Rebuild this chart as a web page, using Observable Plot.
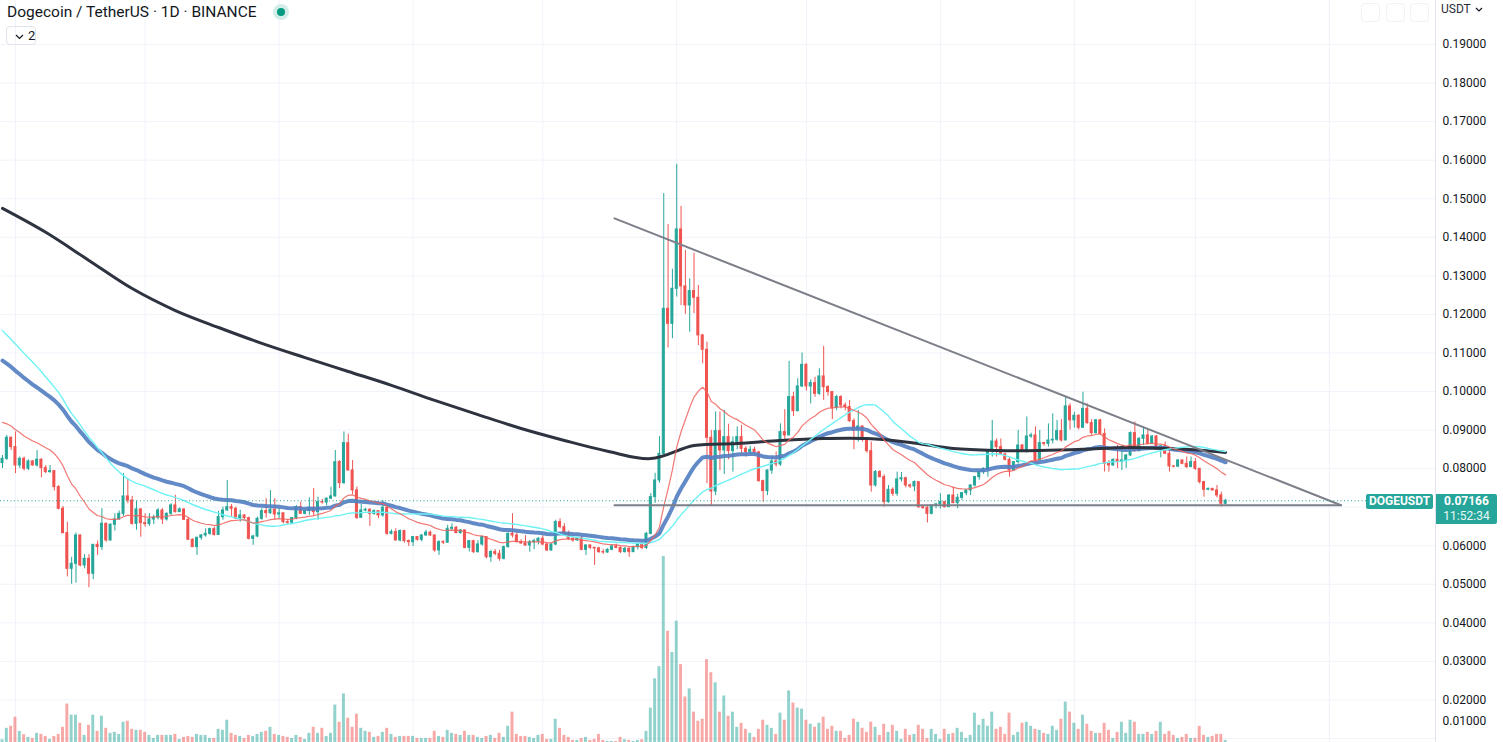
<!DOCTYPE html>
<html><head><meta charset="utf-8">
<script src="https://cdn.jsdelivr.net/npm/d3@7"></script>
<script src="https://cdn.jsdelivr.net/npm/@observablehq/plot@0.6"></script>
<style>
html,body{margin:0;padding:0;background:#fff;}
#chart{position:relative;width:1503px;height:742px;overflow:hidden;font-family:Roboto,"Noto Sans",sans-serif;color:#131722;}
#chart svg{position:absolute;left:0;top:0;}
#chart .ov svg{position:static;}
.ov{position:absolute;white-space:nowrap;}
</style></head>
<body><div id="chart"></div>
<script>
// ---------------- DATA ----------------
const startDate = "2022-05-29";           // first daily candle (BINANCE DOGEUSDT, 1D)
const firstOpen = 0.08143;
const closes = [
0.08255,0.08800,0.08558,0.08082,0.08255,0.07996,0.08186,0.08082,0.08230,0.08013,
0.07909,0.07935,0.07520,0.06958,0.06327,0.05402,0.05531,0.06266,0.05488,0.05661,
0.05272,0.06024,0.05964,0.06569,0.06137,0.06543,0.06681,0.06828,0.07278,0.07174,
0.06569,0.06941,0.06586,0.06560,0.06681,0.06725,0.06915,0.06681,0.06828,0.07045,
0.06871,0.06941,0.06672,0.06154,0.05964,0.06206,0.06266,0.06309,0.06430,0.06280,
0.06742,0.06915,0.07000,0.06958,0.06700,0.06785,0.06716,0.06180,0.06240,0.06698,
0.06897,0.06845,0.06932,0.06811,0.06840,0.06612,0.06595,0.06716,0.07000,0.06828,
0.06897,0.06984,0.06871,0.07131,0.07120,0.07220,0.07280,0.08168,0.07624,0.08661,
0.07952,0.07433,0.06724,0.06915,0.06932,0.06828,0.06897,0.06785,0.06984,0.06310,
0.06353,0.06137,0.06379,0.06120,0.06093,0.06223,0.06154,0.06266,0.06340,0.06266,
0.05877,0.06093,0.06080,0.06439,0.06465,0.06327,0.06396,0.05946,0.06119,0.05834,
0.06032,0.06223,0.05704,0.05834,0.05791,0.05661,0.05964,0.06309,0.06266,0.06093,
0.06060,0.06007,0.06090,0.06119,0.06180,0.06032,0.05877,0.06032,0.06612,0.06482,
0.06309,0.06180,0.06136,0.06197,0.05894,0.06007,0.05946,0.05930,0.05834,0.05825,
0.05894,0.05981,0.05946,0.05834,0.05920,0.05834,0.05964,0.06032,0.05940,0.06309,
0.07261,0.07693,0.08384,0.12145,0.11756,0.12664,0.14203,0.12725,0.12232,0.12603,
0.12431,0.11454,0.11082,0.08799,0.07407,0.08972,0.08470,0.08816,0.08453,0.08687,
0.08816,0.08514,0.08427,0.08488,0.08419,0.07675,0.07416,0.07950,0.08185,0.08107,
0.08946,0.08860,0.09854,0.09491,0.10131,0.10692,0.10131,0.10217,0.09940,0.10390,
0.10113,0.09984,0.09577,0.09854,0.09637,0.09594,0.09231,0.08989,0.09093,0.08773,
0.08453,0.07563,0.07909,0.07779,0.07130,0.07450,0.07347,0.07720,0.07750,0.07563,
0.07537,0.07649,0.07000,0.06980,0.06828,0.07044,0.07070,0.07130,0.07000,0.07303,
0.07104,0.07243,0.07364,0.07433,0.07563,0.07779,0.07908,0.07995,0.08470,0.08704,
0.08557,0.08367,0.08228,0.07952,0.08168,0.08600,0.08470,0.08834,0.08860,0.08211,
0.08661,0.08640,0.08730,0.08750,0.08972,0.08730,0.09612,0.09250,0.09370,0.09060,
0.09550,0.09180,0.08920,0.09250,0.08900,0.08125,0.08082,0.08229,0.08170,0.08212,
0.08341,0.08921,0.08454,0.08774,0.08860,0.08644,0.08834,0.08488,0.08575,0.08385,
0.08056,0.08050,0.08212,0.08125,0.08039,0.08169,0.07996,0.07650,0.07451,0.07477,
0.07434,0.07304,0.07088,0.07166];
const highs = [
0.0834,0.0886,0.0882,0.0895,0.0830,0.0830,0.0823,0.0821,0.0847,0.0826,
0.0808,0.0808,0.0795,0.0756,0.0702,0.0661,0.0570,0.0633,0.0628,0.0577,
0.0577,0.0603,0.0612,0.0696,0.0659,0.0657,0.0683,0.0690,0.0787,0.0774,
0.0728,0.0716,0.0696,0.0683,0.0683,0.0679,0.0696,0.0696,0.0685,0.0709,
0.0731,0.0698,0.0695,0.0672,0.0618,0.0622,0.0629,0.0644,0.0646,0.0648,
0.0689,0.0700,0.0769,0.0707,0.0700,0.0692,0.0680,0.0674,0.0627,0.0674,
0.0696,0.0722,0.0743,0.0722,0.0698,0.0685,0.0667,0.0673,0.0704,0.0713,
0.0692,0.0724,0.0748,0.0726,0.0720,0.0724,0.0752,0.0847,0.0821,0.0895,
0.0889,0.0821,0.0752,0.0707,0.0697,0.0696,0.0693,0.0690,0.0717,0.0690,
0.0641,0.0644,0.0641,0.0640,0.0615,0.0624,0.0624,0.0628,0.0640,0.0638,
0.0627,0.0613,0.0613,0.0653,0.0657,0.0650,0.0642,0.0640,0.0613,0.0614,
0.0613,0.0624,0.0622,0.0588,0.0590,0.0588,0.0599,0.0633,0.0683,0.0635,
0.0616,0.0626,0.0614,0.0617,0.0621,0.0626,0.0606,0.0605,0.0666,0.0670,
0.0657,0.0638,0.0622,0.0622,0.0625,0.0602,0.0602,0.0595,0.0596,0.0590,
0.0592,0.0600,0.0604,0.0597,0.0596,0.0595,0.0599,0.0604,0.0607,0.0634,
0.0735,0.0788,0.0883,0.1513,0.1433,0.1317,0.1589,0.1480,0.1366,0.1292,
0.1359,0.1275,0.1148,0.1128,0.0899,0.0947,0.0947,0.0951,0.0915,0.0882,
0.0908,0.0912,0.0857,0.0858,0.0855,0.0845,0.0770,0.0797,0.0830,0.0843,
0.0916,0.0953,0.1078,0.0998,0.1033,0.1100,0.1072,0.1030,0.1037,0.1059,
0.1117,0.1015,0.1000,0.0990,0.0989,0.0970,0.0977,0.0929,0.0951,0.0910,
0.0880,0.0869,0.0795,0.0795,0.0784,0.0756,0.0750,0.0791,0.0790,0.0778,
0.0760,0.0768,0.0765,0.0704,0.0705,0.0706,0.0710,0.0735,0.0714,0.0732,
0.0752,0.0733,0.0738,0.0745,0.0758,0.0780,0.0792,0.0802,0.0848,0.0925,
0.0877,0.0877,0.0840,0.0828,0.0818,0.0899,0.0862,0.0934,0.0892,0.0908,
0.0899,0.0868,0.0916,0.0942,0.0925,0.0927,0.0985,0.0968,0.0946,0.0940,
0.0998,0.0968,0.0927,0.0928,0.0928,0.0903,0.0821,0.0825,0.0860,0.0860,
0.0836,0.0895,0.0921,0.0880,0.0908,0.0899,0.0885,0.0886,0.0860,0.0869,
0.0847,0.0808,0.0823,0.0822,0.0830,0.0830,0.0826,0.0800,0.0767,0.0749,
0.0748,0.0756,0.0739,0.0720];
const lows = [
0.0800,0.0821,0.0847,0.0787,0.0800,0.0794,0.0795,0.0806,0.0804,0.0776,
0.0787,0.0788,0.0742,0.0693,0.0631,0.0519,0.0500,0.0503,0.0545,0.0540,
0.0491,0.0512,0.0575,0.0588,0.0609,0.0612,0.0638,0.0666,0.0676,0.0709,
0.0653,0.0640,0.0622,0.0648,0.0650,0.0655,0.0667,0.0655,0.0664,0.0679,
0.0685,0.0686,0.0666,0.0614,0.0595,0.0575,0.0614,0.0622,0.0627,0.0625,
0.0627,0.0666,0.0689,0.0674,0.0667,0.0661,0.0668,0.0615,0.0601,0.0621,
0.0666,0.0672,0.0681,0.0666,0.0670,0.0657,0.0655,0.0658,0.0667,0.0681,
0.0680,0.0679,0.0676,0.0666,0.0708,0.0703,0.0720,0.0726,0.0748,0.0759,
0.0794,0.0733,0.0668,0.0672,0.0688,0.0650,0.0679,0.0670,0.0674,0.0627,
0.0628,0.0612,0.0610,0.0607,0.0598,0.0598,0.0612,0.0610,0.0625,0.0624,
0.0583,0.0575,0.0603,0.0606,0.0638,0.0631,0.0630,0.0592,0.0584,0.0580,
0.0581,0.0599,0.0566,0.0557,0.0574,0.0560,0.0563,0.0594,0.0620,0.0607,
0.0603,0.0598,0.0583,0.0590,0.0602,0.0600,0.0585,0.0586,0.0600,0.0644,
0.0627,0.0614,0.0609,0.0611,0.0587,0.0575,0.0590,0.0549,0.0580,0.0578,
0.0580,0.0587,0.0592,0.0580,0.0581,0.0570,0.0582,0.0589,0.0590,0.0590,
0.0628,0.0710,0.0762,0.0835,0.1113,0.1137,0.1245,0.1223,0.1200,0.1154,
0.1202,0.1119,0.1072,0.0761,0.0704,0.0730,0.0795,0.0785,0.0823,0.0791,
0.0849,0.0832,0.0830,0.0838,0.0836,0.0765,0.0713,0.0730,0.0785,0.0804,
0.0806,0.0869,0.0886,0.0935,0.0947,0.1010,0.1001,0.0968,0.0985,0.0990,
0.0977,0.0988,0.0927,0.0950,0.0955,0.0950,0.0920,0.0849,0.0869,0.0869,
0.0840,0.0739,0.0752,0.0776,0.0700,0.0710,0.0728,0.0728,0.0765,0.0750,
0.0748,0.0740,0.0697,0.0694,0.0659,0.0680,0.0696,0.0695,0.0698,0.0699,
0.0709,0.0696,0.0718,0.0730,0.0730,0.0752,0.0770,0.0785,0.0778,0.0830,
0.0830,0.0834,0.0820,0.0778,0.0795,0.0812,0.0843,0.0840,0.0878,0.0817,
0.0821,0.0858,0.0856,0.0864,0.0871,0.0869,0.0875,0.0900,0.0905,0.0900,
0.0905,0.0915,0.0886,0.0890,0.0886,0.0791,0.0791,0.0806,0.0800,0.0795,
0.0800,0.0831,0.0843,0.0843,0.0860,0.0863,0.0862,0.0847,0.0828,0.0837,
0.0791,0.0802,0.0803,0.0810,0.0800,0.0803,0.0795,0.0760,0.0726,0.0743,
0.0742,0.0724,0.0700,0.0706];
// daily volume, billions of DOGE
const volumes = [
0.47,1.6,1.8,2.7,1.3,0.97,0.7,0.6,1.1,1.0,
0.8,0.5,0.8,1.0,1.7,4.0,2.9,2.9,2.1,0.9,
1.9,2.9,1.3,2.8,1.6,1.1,1.2,1.0,2.2,2.3,
1.5,1.4,1.4,1.2,0.9,0.6,0.9,0.9,0.9,0.9,
1.0,0.5,0.7,0.8,0.7,1.0,0.9,0.9,0.6,0.6,
1.5,1.4,2.4,1.1,0.9,0.8,0.6,0.9,0.8,1.0,
1.2,1.3,1.7,1.0,0.9,0.8,0.7,0.6,0.9,0.7,
0.5,1.1,1.7,1.1,1.6,0.8,1.1,3.9,2.2,5.0,
2.6,1.7,3.0,1.6,1.3,1.2,0.7,0.8,1.2,1.6,
1.0,0.7,0.8,0.8,0.8,0.8,0.6,0.6,0.6,0.6,
1.3,0.8,0.7,1.4,1.1,1.0,0.9,1.3,0.9,0.9,
0.7,0.6,0.8,0.9,0.6,1.1,0.7,1.8,3.2,1.0,
0.8,0.8,0.7,0.6,0.9,1.0,0.5,0.5,2.5,1.6,
0.9,0.7,0.4,0.4,0.6,0.7,0.4,0.5,1.0,0.4,
0.3,0.3,0.3,0.7,0.47,0.4,0.3,0.4,0.47,1.3,
3.6,6.5,7.7,18.6,11.2,9.1,12.2,7.9,4.7,5.5,
3.2,2.3,2.5,8.4,7.1,6.1,3.2,4.8,2.8,3.2,
1.7,2.1,1.5,1.1,0.7,1.5,2.4,1.9,1.6,1.0,
3.1,2.4,5.3,4.1,3.6,3.5,2.4,2.0,1.7,2.1,
2.7,1.5,1.8,1.3,1.3,0.6,0.9,2.5,2.2,1.6,
1.2,2.2,1.7,0.9,2.0,1.2,1.9,1.3,0.5,1.5,
0.9,1.0,1.9,1.5,0.6,1.5,1.0,0.5,1.5,1.0,
1.1,1.6,1.2,0.6,0.9,3.1,1.9,2.5,1.8,3.2,
1.5,1.7,1.0,3.1,0.9,1.2,2.1,2.2,1.8,1.5,
1.4,1.1,1.0,1.8,1.4,2.5,4.2,3.2,2.1,1.5,
2.9,2.0,1.3,1.1,1.1,2.1,1.4,0.6,1.2,2.2,
1.1,2.4,2.2,1.0,1.0,1.2,1.0,1.3,2.2,1.0,
1.3,0.9,0.6,0.7,1.0,0.6,0.6,1.8,0.9,0.7,
0.8,1.0,1.0,0.4];
// closes of the 49 days before the first visible candle (warm-up for the 50-day SMA)
const warmupCloses = [
0.146,0.142,0.139,0.144,0.141,0.140,0.139,0.141,0.143,0.147,0.145,0.142,0.139,0.148,0.157,
0.141,0.131,0.136,0.137,0.130,0.126,0.130,0.128,
0.133,0.136,0.124,0.122,0.118,0.114,
0.097,0.096,0.082,0.085,0.092,0.090,0.093,0.089,0.090,0.086,0.088,0.086,0.087,0.088,0.085,0.085,0.085,0.083,0.080,0.081];
const ema20Start = 0.0920;   // EMA 20 value on the first visible day
const ema50Start = 0.1080;   // EMA 50 value on the first visible day
// 200-day moving average, read at every 10th candle
const ma200Day = [0,10,20,30,40,50,60,70,80,90,100,110,120,130,140,150,160,170,180,190,200,210,220,230,240,250,260,270,280,283];
const ma200Val = [0.1475,0.1413,0.1340,0.1267,0.1210,0.1166,0.1125,0.1088,0.1052,0.1016,0.0977,0.0940,0.0904,0.0873,0.0845,0.0826,0.0860,0.0865,0.0873,0.0878,0.0878,0.0868,0.0852,0.0847,0.0847,0.0850,0.0855,0.0852,0.0845,0.0842];
// drawn trend lines (descending resistance, horizontal support)
const trendTimes = ["2022-10-17T14:24:00Z","2023-04-03T16:48:00Z"];
const resistPrices = [0.1449, 0.0705];
const supportPrices = [0.0705, 0.0705];
const priceTicks = [0.01,0.02,0.03,0.04,0.05,0.06,0.07,0.08,0.09,0.10,0.11,0.12,0.13,0.14,0.15,0.16,0.17,0.18,0.19];
const symbol = "DOGEUSDT", lastLabel = "0.07166", countdown = "11:52:34";

// ---------------- BUILD ----------------
const DAY = 864e5;
const UP = "#26a69a", DOWN = "#ef5350";
const W = 1503, H = 742, PR = 1435;
const FONT = "Roboto, 'Noto Sans', sans-serif";
const t0 = Date.parse(startDate + "T00:00:00Z");
const dayAt = i => new Date(t0 + i * DAY);
const candles = closes.map((c, i) => ({
  date: dayAt(i), open: i ? closes[i - 1] : firstOpen, high: highs[i], low: lows[i], close: c, volume: volumes[i]
}));
candles.forEach(d => d.up = d.close >= d.open);
const ups = candles.filter(d => d.up), downs = candles.filter(d => !d.up);

const allCloses = warmupCloses.concat(closes);
let e20 = ema20Start, e50 = ema50Start;
const ind = candles.map((d, i) => {
  if (i > 0) { e20 += (d.close - e20) * 2 / 21; e50 += (d.close - e50) * 2 / 51; }
  const j = i + warmupCloses.length;
  return { date: d.date, ema20: e20, ema50: e50, sma50: d3.mean(allCloses.slice(j - 49, j + 1)) };
});
const ma200 = ma200Day.map((k, n) => ({ date: dayAt(k), v: ma200Val[n] }));
const resist = trendTimes.map((t, n) => ({ date: new Date(t), v: resistPrices[n] }));
const support = trendTimes.map((t, n) => ({ date: new Date(t), v: supportPrices[n] }));

const xDomain = [dayAt(-0.463), dayAt(331.56)];
const months = d3.utcMonth.range(xDomain[0], xDomain[1]);
const base = { width: W, height: H, marginLeft: 0, marginRight: W - PR, marginTop: 0, marginBottom: 0,
  style: { background: "transparent", overflow: "visible" } };
const xs = { type: "utc", domain: xDomain, range: [0, PR], axis: null };
const ys = { type: "linear", domain: [0.01, 0.19], range: [738, 44] };
const GRID = "#f0f3fa";
const lastClose = closes[closes.length - 1];

// axis labels: the one hidden under the last-price label is dropped, the bottom one is nudged up into view
const yTmp = d3.scaleLinear(ys.domain, ys.range);
const yLast = yTmp(lastClose);
const axisTicks = priceTicks.filter(t => Math.abs(yTmp(t) - yLast) > 16 && t !== priceTicks[0]);
const edgeTicks = [priceTicks[0]];

const gridPlot = Plot.plot({ ...base, x: xs, y: { ...ys, axis: null }, marks: [
  Plot.gridY(priceTicks, { stroke: GRID, strokeOpacity: 1 }),
  Plot.gridX(months, { stroke: GRID, strokeOpacity: 1 })
]});

const half = 0.34 * DAY;
const volPlot = Plot.plot({ ...base, x: xs, y: { domain: [0, 18.6], range: [744, 556], axis: null }, marks: [
  Plot.rect(ups, { x1: d => new Date(+d.date - half), x2: d => new Date(+d.date + half), y1: 0, y2: "volume", fill: UP, fillOpacity: 0.5 }),
  Plot.rect(downs, { x1: d => new Date(+d.date - half), x2: d => new Date(+d.date + half), y1: 0, y2: "volume", fill: DOWN, fillOpacity: 0.5 })
]});

const bh = 0.23 * DAY;
const body = (data, color) => Plot.rect(data, { x1: d => new Date(+d.date - bh), x2: d => new Date(+d.date + bh),
  y1: "open", y2: "close", fill: color, stroke: color, strokeWidth: 1 });
const wick = (data, color) => Plot.ruleX(data, { x: "date", y1: "low", y2: "high", stroke: color, strokeWidth: 1 });

const pricePlot = Plot.plot({ ...base, x: xs, y: ys, marks: [
  Plot.ruleX([xDomain[1]], { stroke: "#e0e3eb" }),
  wick(ups, UP), wick(downs, DOWN), body(ups, UP), body(downs, DOWN),
  Plot.line(ind, { x: "date", y: "ema50", stroke: "#5580c2", strokeWidth: 4, strokeOpacity: 0.92 }),
  Plot.line(ma200, { x: "date", y: "v", stroke: "#2e3340", strokeWidth: 3, curve: "catmull-rom" }),
  Plot.line(ind, { x: "date", y: "sma50", stroke: "#6ef2f5", strokeWidth: 1.4 }),
  Plot.line(ind, { x: "date", y: "ema20", stroke: "#f0605c", strokeWidth: 1.2, strokeOpacity: 0.85 }),
  Plot.line(resist, { x: "date", y: "v", stroke: "#7c7f89", strokeWidth: 2 }),
  Plot.line(support, { x: "date", y: "v", stroke: "#7c7f89", strokeWidth: 2 }),
  Plot.ruleY([lastClose], { stroke: UP, strokeDasharray: "1 2.5", strokeWidth: 1 }),
  Plot.axisY({ anchor: "right", ticks: axisTicks, tickSize: 0, tickPadding: 7, label: null,
    tickFormat: d => d.toFixed(5), fontSize: 12, fontFamily: FONT, color: "#131722" }),
  Plot.text(edgeTicks, { x: xDomain[1], y: d => d, text: d => d.toFixed(5), dx: 7, dy: -17, textAnchor: "start",
    fontSize: 12, fontFamily: FONT, fill: "#131722" })
]});

const chart = document.getElementById("chart");
chart.append(gridPlot, volPlot, pricePlot);

// legend / header overlays
const py = pricePlot.scale("y").apply(lastClose);
const add = (html, css) => { const e = document.createElement("div"); e.className = "ov"; e.style.cssText = css; e.innerHTML = html; chart.append(e); return e; };
add("Dogecoin / TetherUS · 1D · BINANCE", "left:7px;top:2px;font-size:15.5px;line-height:20px;color:#131722;");
add("", "left:273px;top:4px;width:16px;height:16px;border-radius:50%;background:#d3eee9;");
add("", "left:277px;top:8px;width:8px;height:8px;border-radius:50%;background:#089981;");
add('<svg width="9" height="6" style="position:absolute;left:8px;top:7px"><polyline points="1,1 4.5,4.5 8,1" fill="none" stroke="#131722" stroke-width="1.2"/></svg><span style="position:absolute;left:21px;top:1px;font-size:13px;">2</span>',
    "left:6px;top:26px;width:30px;height:19px;border:1px solid #e0e3eb;border-radius:4px;box-sizing:border-box;");
// faint chart buttons, top right
[1361, 1386, 1410].forEach(l => add("", `left:${l}px;top:3px;width:19px;height:19px;border:1px solid #f0f2f6;border-radius:4px;box-sizing:border-box;`));
add('<span>USDT</span><svg width="8" height="5" style="margin-left:4px"><polyline points="1,1 4,4 7,1" fill="none" stroke="#131722" stroke-width="1.2"/></svg>',
    "left:1441px;top:1px;height:16px;display:flex;align-items:center;font-size:12px;color:#2a2e39;");
add(symbol, `left:1366px;top:${py - 6.5}px;width:67px;height:15px;background:${UP};color:#fff;font-weight:bold;font-size:12px;line-height:15px;text-align:center;border-radius:2px;`);
add("", `left:1436px;top:${py - 6.5}px;width:61px;height:30px;background:${UP};border-radius:0 2px 2px 0;`);
add(lastLabel, `left:1436px;top:${py - 6}px;width:61px;font-weight:bold;font-size:12px;line-height:14px;text-align:center;color:#fff;`);
add(countdown, `left:1436px;top:${py + 8.5}px;width:61px;font-size:12px;line-height:14px;text-align:center;color:#e8f6f4;`);
</script></body></html>
